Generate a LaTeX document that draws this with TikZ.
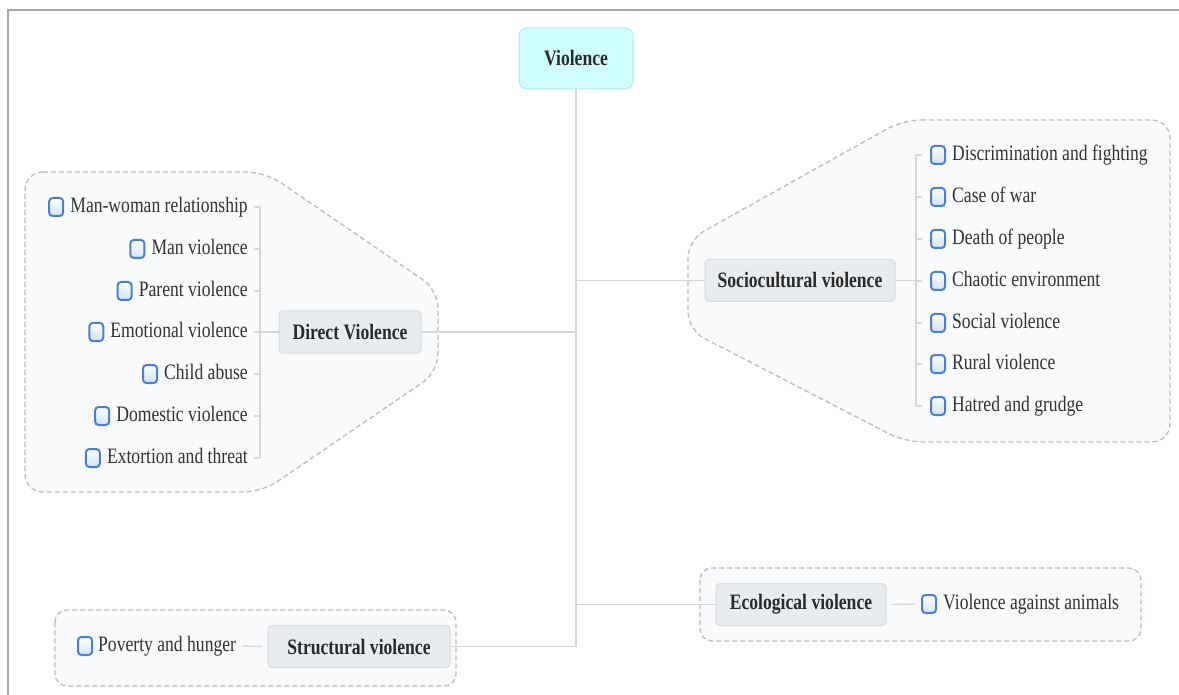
\documentclass[tikz,border=0pt]{standalone}
\usepackage{fontspec}
\setmainfont{Liberation Serif}[FakeStretch=0.8]
\usetikzlibrary{positioning}
\definecolor{linec}{HTML}{D3D7DA}
\definecolor{grpline}{HTML}{B9BDC1}
\definecolor{grpfill}{HTML}{F9FAFC}
\definecolor{topicfill}{HTML}{E8ECEF}
\definecolor{topicline}{HTML}{D6DBE0}
\definecolor{violfill}{HTML}{CFFDFD}
\definecolor{violline}{HTML}{B3ECEC}
\definecolor{cbline}{HTML}{4A80D4}
\definecolor{cbfill}{HTML}{D0E2F8}
\definecolor{itemtext}{HTML}{333333}
\definecolor{darktext}{HTML}{2A2A2A}
\definecolor{framec}{HTML}{A9A9A9}
\begin{document}
\begin{tikzpicture}[x=1pt,y=-1pt,
  conn/.style={draw=linec, line width=1.3pt},
  grp/.style={draw=grpline, dash pattern=on 5pt off 3pt, line width=1.3pt, fill=grpfill, rounded corners=18pt},
  topic/.style={draw=topicline, fill=topicfill, rounded corners=4pt, line width=1pt, font=\fontsize{22}{26}\selectfont\bfseries, text=darktext, minimum height=42pt, inner xsep=0pt},
  item/.style={font=\fontsize{22}{26}\selectfont, text=itemtext, inner sep=0pt, text height=15pt, text depth=4pt},
  cbox/.style={draw=cbline, line width=2pt, rounded corners=3.5pt, minimum width=14pt, minimum height=18pt, inner sep=0pt, top color=white, bottom color=cbfill},
]
\useasboundingbox (0,0) rectangle (1179,695);
% frame
\draw[framec, line width=2pt] (8,695) -- (8,10) -- (1179,10);

% groups
\path[grp] (25,172) -- (265,172) -- (438,290) -- (438,372) -- (262,492) -- (25,492) -- cycle;
\path[grp] (903,120) -- (1170,120) -- (1170,442) -- (905,442) -- (688,330) -- (688,240) -- cycle;
\path[grp, rounded corners=12pt] (700,568) rectangle (1141,641);
\path[grp, rounded corners=12pt] (55,610) rectangle (456,686);

% root
\node[draw=violline, fill=violfill, rounded corners=8pt, line width=1pt, minimum width=114pt, minimum height=61pt, font=\fontsize{22}{26}\selectfont\bfseries, text=darktext] (root) at (576,58.5) {Violence};

% topics
\node[topic, minimum width=142pt] (direct) at (350,332) {Direct Violence};
\node[topic, minimum width=190pt] (socio) at (800,280.5) {Sociocultural violence};
\node[topic, minimum width=170pt] (eco) at (801,604.5) {Ecological violence};
\node[topic, minimum width=182pt] (struct) at (359,646.5) {Structural violence};

% trunk
\coordinate (tend) at (struct.east -| root.south);
\draw[conn] (root.south) -- (tend);
\draw[conn] (direct.east) -- (direct.east -| root.south);
\draw[conn] (socio.west) -- (socio.west -| root.south);
\draw[conn] (eco.west) -- (eco.west -| root.south);
\draw[conn] (struct.east) -- (tend);

% left items
\foreach \n/\y/\t in {1/207/Man-woman relationship, 2/249/Man violence, 3/291/Parent violence, 4/332/Emotional violence, 5/374/Child abuse, 6/416/Domestic violence, 7/458/Extortion and threat}{
  \node[item, anchor=east] (l\n) at (248,\y) {\t};
  \node[cbox, left=6pt of l\n] (cl\n) {};
  \draw[conn] ([xshift=6pt]l\n.east) -- ([xshift=12pt]l\n.east);
}
\coordinate (lb1) at ([xshift=12pt]l1.east);
\coordinate (lb7) at ([xshift=12pt]l7.east);
\draw[conn] (lb1) -- (lb7);
\draw[conn] (direct.west) -- (direct.west -| lb1);

% right items
\foreach \n/\y/\t in {1/155/Discrimination and fighting, 2/197/Case of war, 3/239/Death of people, 4/281/Chaotic environment, 5/323/Social violence, 6/364/Rural violence, 7/406/Hatred and grudge}{
  \node[item, anchor=west] (r\n) at (952,\y) {\t};
  \node[cbox, left=6pt of r\n] (cr\n) {};
  \draw[conn] ([xshift=-30pt]r\n.west) -- ([xshift=-36pt]r\n.west);
}
\coordinate (rb1) at ([xshift=-36pt]r1.west);
\coordinate (rb7) at ([xshift=-36pt]r7.west);
\draw[conn] (rb1) -- (rb7);
\draw[conn] (socio.east) -- (socio.east -| rb1);

% ecological item
\node[item, anchor=west] (e1) at (943,604) {Violence against animals};
\node[cbox, left=6pt of e1] (ce1) {};
\draw[conn] ([xshift=5pt]eco.east) -- ([xshift=-6pt]ce1.west);

% structural item
\node[item, anchor=west] (s1) at (98,646) {Poverty and hunger};
\node[cbox, left=5pt of s1] (cs1) {};
\draw[conn] ([xshift=6pt]s1.east) -- ([xshift=-5pt]struct.west);
\end{tikzpicture}
\end{document}
